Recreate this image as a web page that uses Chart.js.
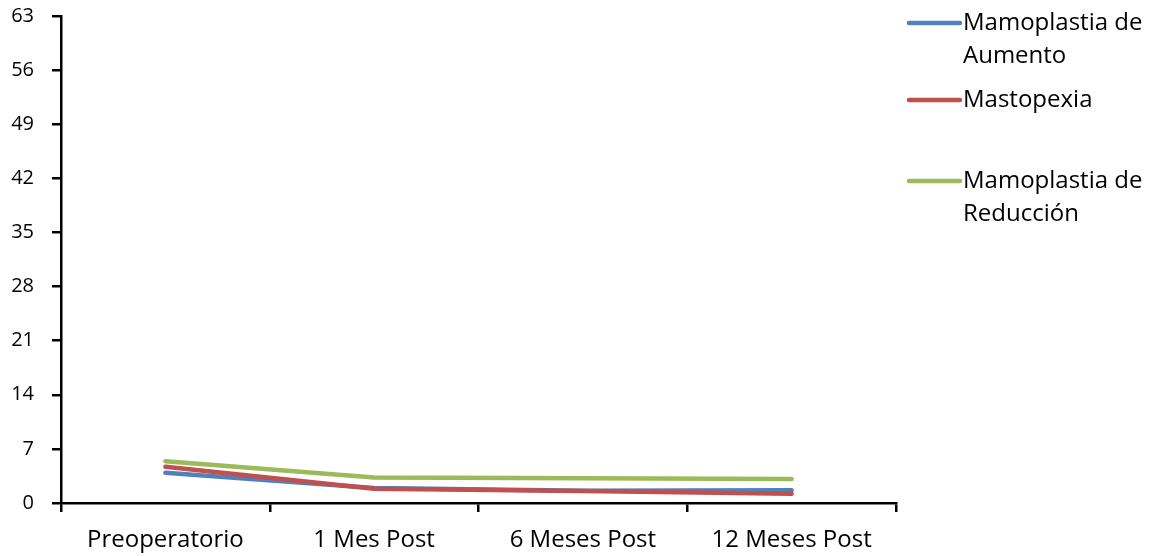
<!DOCTYPE html>
<html>
<head>
<meta charset="utf-8">
<script src="https://cdn.jsdelivr.net/npm/chart.js@4/dist/chart.umd.min.js"></script>
<style>
  html, body { margin: 0; padding: 0; background: #fff; }
  #wrap { width: 1156px; height: 556px; }
</style>
</head>
<body>
<div id="wrap"><canvas id="c" width="1156" height="556"></canvas></div>
<script>
// Time points of the follow-up
const categories = ['Preoperatorio', '1 Mes Post', '6 Meses Post', '12 Meses Post'];

// Mean score per surgical group
const aumento    = [3.9, 1.95, 1.6, 1.65];
const mastopexia = [4.7, 1.85, 1.55, 1.2];
const reduccion  = [5.4, 3.3, 3.2, 3.1];

// Legend labels (wrapped as they are printed)
const seriesNames = [
  ['Mamoplastia de', 'Aumento'],
  ['Mastopexia'],
  ['Mamoplastia de', 'Reducción']
];

// Y axis tick labels
const yTicks = [0, 7, 14, 21, 28, 35, 42, 49, 56, 63];

const FONT = "'Open Sans', sans-serif";
const colors = ['#4F81BD', '#C0504D', '#9BBB59'];

// Legend drawn at the right, with wrapped labels
const sideLegend = {
  id: 'sideLegend',
  afterDraw(chart) {
    const ctx = chart.ctx;
    const rows = [23, 100, 181];
    ctx.save();
    ctx.font = '24px ' + FONT;
    ctx.textBaseline = 'alphabetic';
    ctx.textAlign = 'left';
    chart.data.datasets.forEach((ds, i) => {
      const y = rows[i];
      ctx.strokeStyle = ds.borderColor;
      ctx.lineWidth = 4.5;
      ctx.lineCap = 'round';
      ctx.beginPath();
      ctx.moveTo(909, y);
      ctx.lineTo(960, y);
      ctx.stroke();
      ctx.fillStyle = '#000';
      seriesNames[i].forEach((line, k) => ctx.fillText(line, 963, y + 7 + k * 33));
    });
    ctx.restore();
  }
};

const common = {
  borderWidth: 4.5,
  pointRadius: 0,
  pointHoverRadius: 0,
  tension: 0,
  fill: false,
  borderCapStyle: 'round',
  borderJoinStyle: 'round'
};

new Chart(document.getElementById('c'), {
  type: 'line',
  data: {
    labels: categories,
    datasets: [
      Object.assign({ label: seriesNames[0].join(' '), data: aumento, borderColor: colors[0], order: 3 }, common),
      Object.assign({ label: seriesNames[1].join(' '), data: mastopexia, borderColor: colors[1], order: 2 }, common),
      Object.assign({ label: seriesNames[2].join(' '), data: reduccion, borderColor: colors[2], order: 1 }, common)
    ]
  },
  options: {
    responsive: false,
    animation: false,
    devicePixelRatio: 1,
    layout: { padding: { left: 0, top: 16, right: 260, bottom: 0 } },
    plugins: { legend: { display: false }, tooltip: { enabled: false } },
    scales: {
      x: {
        offset: true,
        grid: { offset: true, drawOnChartArea: false, color: '#000', lineWidth: 2.5, tickLength: 9 },
        border: { color: '#000', width: 2.5 },
        ticks: { color: '#000', font: { family: FONT, size: 24 }, padding: 14, maxRotation: 0, autoSkip: false },
        afterFit(s) { s.height = 53; s.paddingLeft = 0; s.paddingRight = 0; }
      },
      y: {
        min: 0,
        max: 63,
        afterBuildTicks(s) { s.ticks = yTicks.map(v => ({ value: v })); },
        grid: { drawOnChartArea: false, color: '#000', lineWidth: 2.5, tickLength: 9 },
        border: { color: '#000', width: 2.5 },
        ticks: { color: '#000', font: { family: FONT, size: 20 }, padding: 18 },
        afterFit(s) { s.width = 61; s.paddingTop = 0; s.paddingBottom = 0; }
      }
    }
  },
  plugins: [sideLegend]
});
</script>
</body>
</html>
